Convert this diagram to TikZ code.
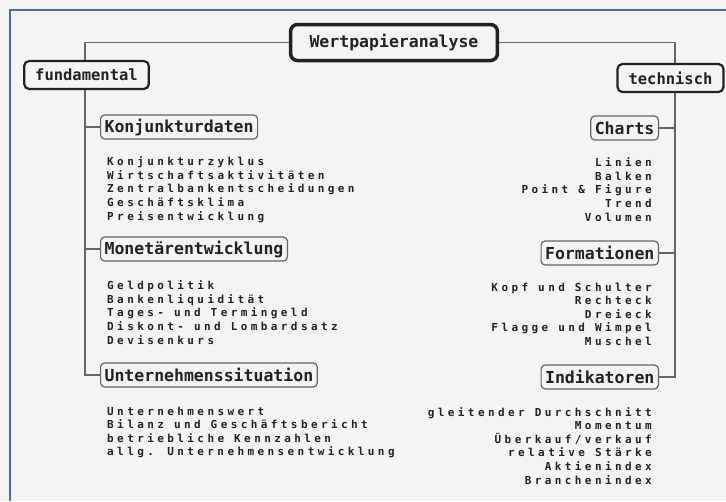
\documentclass[tikz,border=0pt]{standalone}
\usepackage{fontspec}
\usetikzlibrary{positioning, calc}
\newfontfamily\headFont{DejaVu Sans Mono}
\newfontfamily\itemFont{DejaVu Sans Mono}[LetterSpace=31]
\definecolor{frameBlue}{RGB}{72,108,182}
\definecolor{lineGray}{RGB}{100,100,100}
\definecolor{inkColor}{RGB}{34,34,34}
\definecolor{paperColor}{RGB}{244,244,242}

\begin{document}
\begin{tikzpicture}[
    x=1pt, y=-1pt,
    root/.style={
        draw=inkColor, line width=3.5pt, rounded corners=7pt, text=inkColor,
        font=\headFont\bfseries\fontsize{16.5}{16.5}\selectfont,
        minimum height=36pt, inner xsep=19pt
    },
    branch/.style={
        draw=inkColor, line width=2.2pt, rounded corners=5pt, text=inkColor,
        font=\headFont\bfseries\fontsize{15.5}{15.5}\selectfont,
        minimum height=28pt, inner xsep=11pt
    },
    topic/.style={
        draw=lineGray, line width=1.2pt, rounded corners=4pt, text=inkColor,
        font=\headFont\bfseries\fontsize{16.5}{16.5}\selectfont,
        minimum height=24pt, inner xsep=4pt
    },
    itemlist/.style={
        text=inkColor, inner sep=0pt,
        font=\itemFont\bfseries\fontsize{11}{13.6}\selectfont
    },
    link/.style={lineGray, line width=1.2pt},
    frame/.style={frameBlue, line width=2pt}
]
    % Page: 726 x 501, y grows downwards.
    \fill[paperColor] (0,0) rectangle (726,501);
    \useasboundingbox (0,0) rectangle (726,501);
    \draw[frame] (10,501) -- (10,10) -- (726,10);

    % Root and the two branches.
    \node[root] (wpa) at (394,42.5) {Wertpapieranalyse};
    \node[branch] (fund) at (86.5,75) {fundamental};
    \node[branch] (tech) at (670.5,78) {technisch};
    \coordinate (leftRail) at (85,0);
    \coordinate (rightRail) at (675,0);
    \draw[link] (wpa.west) -| (leftRail |- fund.north);
    \draw[link] (wpa.east) -| (rightRail |- tech.north);

    % Left side: fundamental analysis.
    \node[topic, anchor=west] (konj) at (100,127) {Konjunkturdaten};
    \node[topic, anchor=west] (mone) at (100,249) {Monetärentwicklung};
    \node[topic, anchor=west] (unter) at (100,375) {Unternehmenssituation};
    \draw[link] (leftRail |- fund.south) |- (unter.west);
    \draw[link] (leftRail |- konj.west) -- (konj.west);
    \draw[link] (leftRail |- mone.west) -- (mone.west);

    \node[itemlist, anchor=north west, align=left] (konjItems) at (107,156.5)
        {Konjunkturzyklus\\Wirtschaftsaktivitäten\\Zentralbankentscheidungen\\Geschäftsklima\\Preisentwicklung};
    \node[itemlist, anchor=north west, align=left] (moneItems) at (107,280.5)
        {Geldpolitik\\Bankenliquidität\\Tages- und Termingeld\\Diskont- und Lombardsatz\\Devisenkurs};
    \node[itemlist, anchor=north west, align=left] (unterItems) at (107,406.5)
        {Unternehmenswert\\Bilanz und Geschäftsbericht\\betriebliche Kennzahlen\\allg. Unternehmensentwicklung};

    % Right side: technical analysis.
    \node[topic, anchor=east] (charts) at (659,128) {Charts};
    \node[topic, anchor=east] (forma) at (659,253) {Formationen};
    \node[topic, anchor=east] (indik) at (659,377) {Indikatoren};
    \draw[link] (rightRail |- tech.south) |- (indik.east);
    \draw[link] (rightRail |- charts.east) -- (charts.east);
    \draw[link] (rightRail |- forma.east) -- (forma.east);

    \node[itemlist, anchor=north east, align=right] (chartItems) at (652,157.5)
        {Linien\\Balken\\Point \& Figure\\Trend\\Volumen};
    \node[itemlist, anchor=north east, align=right] (formaItems) at (652,282.5)
        {Kopf und Schulter\\Rechteck\\Dreieck\\Flagge und Wimpel\\Muschel};
    \node[itemlist, anchor=north east, align=right] (indikItems) at (652,407)
        {gleitender Durchschnitt\\Momentum\\Überkauf/verkauf\\relative Stärke\\Aktienindex\\Branchenindex};
\end{tikzpicture}
\end{document}
